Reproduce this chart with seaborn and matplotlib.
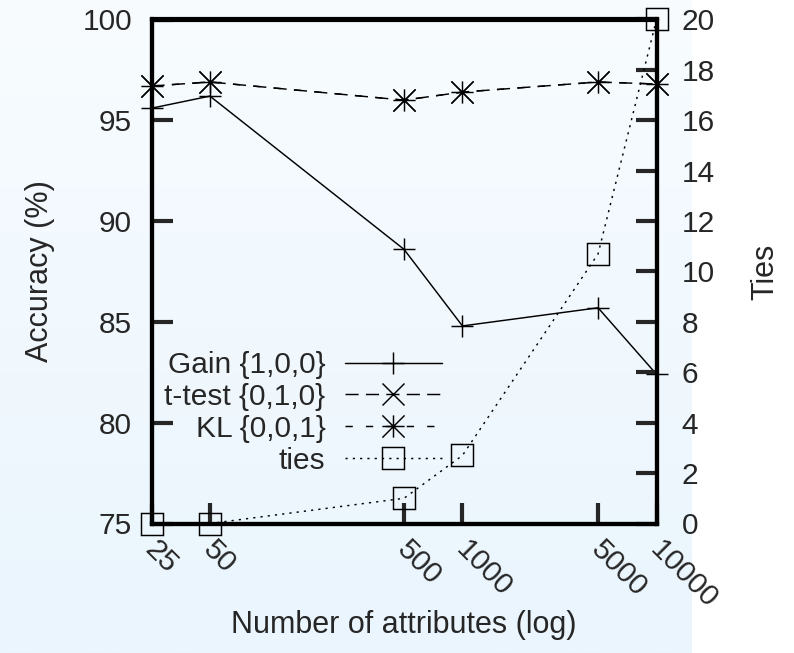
import numpy as np
import pandas as pd
import matplotlib
matplotlib.use("Agg")
import matplotlib.pyplot as plt
from matplotlib.path import Path
import seaborn as sns

# ---- data ----
attributes = [25, 50, 500, 1000, 5000, 10000]
gain = [95.6, 96.2, 88.6, 84.8, 85.7, 82.4]
ttest = [96.7, 96.9, 96.0, 96.4, 96.9, 96.8]
kl = [96.7, 96.9, 96.0, 96.4, 96.9, 96.8]
ties = [0.0, 0.0, 1.0, 2.7, 10.7, 20.0]
xtick_labels = ["25", "50", "500", "1000", "5000", "10000"]
labels = ["Gain {1,0,0}", "t-test {0,1,0}", "KL {0,0,1}", "ties"]

sns.set_style("white")
plt.rcParams["font.family"] = ["Liberation Sans", "DejaVu Sans"]
FS = 21.5
LFS = 22

W, H = 794, 653
fig = plt.figure(figsize=(W / 100, H / 100), dpi=100)
fig.patch.set_facecolor("white")

# background gradient panel
bg = fig.add_axes([0, 0, 692 / W, 1], zorder=-10)
grad = np.linspace(0, 1, 256)[:, None]
top = np.array([248, 252, 255]) / 255
bot = np.array([234, 245, 253]) / 255
img = top[None, None, :] * (1 - grad[:, :, None]) + bot[None, None, :] * grad[:, :, None]
bg.imshow(img, aspect="auto", extent=[0, 1, 0, 1], origin="upper")
bg.axis("off")

L, R, T, B = 151.5, 656.5, 19.5, 523.5
AW, AH = R - L, B - T
ax = fig.add_axes([L / W, 1 - B / H, AW / W, AH / H])
ax.patch.set_alpha(0)
ax2 = ax.twinx()
ax2.patch.set_alpha(0)

# asterisk marker (+ and x combined)
ast = Path([(-1, 0), (1, 0), (0, -1), (0, 1), (-1, -1), (1, 1), (-1, 1), (1, -1)],
           [Path.MOVETO, Path.LINETO] * 4)

df = pd.DataFrame({"x": attributes, "gain": gain, "ttest": ttest, "kl": kl, "ties": ties})
MS = 16
common = dict(color="black", lw=1.05, markersize=MS, markeredgewidth=1.05,
              markeredgecolor="black", clip_on=False, legend=False)

sns.lineplot(data=df, x="x", y="gain", ax=ax, marker="+", linestyle="-", **common)
sns.lineplot(data=df, x="x", y="ttest", ax=ax, marker="x", linestyle=(0, (9, 5)), **common)
sns.lineplot(data=df, x="x", y="kl", ax=ax, marker=ast, linestyle=(0, (5, 9)), **common)
sns.lineplot(data=df, x="x", y="ties", ax=ax2, marker="s", markerfacecolor="none",
             linestyle=(0, (1.5, 3.5)), **common)

for a in (ax, ax2):
    a.set_xscale("log")
    a.set_xlim(25, 10000)
ax.set_ylim(75, 100)
ax2.set_ylim(0, 20)
ax.set_yticks(np.arange(75, 101, 5))
ax2.set_yticks(np.arange(0, 21, 2))
ax.set_xticks(attributes)
ax.set_xticklabels(xtick_labels)
ax.xaxis.set_minor_locator(matplotlib.ticker.NullLocator())
ax2.xaxis.set_minor_locator(matplotlib.ticker.NullLocator())

for a in (ax, ax2):
    for s in a.spines.values():
        s.set_linewidth(3)
        s.set_color("black")

ax.tick_params(axis="y", direction="in", length=15, width=3, labelsize=FS, pad=14,
               left=True, right=False)
ax.tick_params(axis="x", direction="in", length=15, width=3, labelsize=FS, pad=14,
               bottom=True, top=False)
ax2.tick_params(axis="y", direction="in", length=15, width=3, labelsize=FS, pad=18,
                right=True, left=False)
ax2.tick_params(axis="x", bottom=False, top=False, labelbottom=False, labeltop=False)

for lbl in ax.get_xticklabels():
    lbl.set_rotation(-45)
    lbl.set_ha("left")
    lbl.set_va("center_baseline")
    lbl.set_rotation_mode("anchor")

ax.set_xlabel("Number of attributes (log)", fontsize=LFS)
ax.xaxis.label.set_va("center")
ax.xaxis.set_label_coords(0.5, -(625 - B) / AH)
ax.set_ylabel("Accuracy (%)", fontsize=LFS)
ax.yaxis.label.set_va("center")
ax.yaxis.set_label_coords((40 - L) / AW, 0.5)
ax2.set_ylabel("Ties", fontsize=LFS)
ax2.yaxis.label.set_va("center")
ax2.yaxis.set_label_coords((765 - L) / AW, 0.5)

handles = ax.get_lines()[:3] + ax2.get_lines()[:1]
leg = ax2.legend(handles, labels, loc="upper right",
                 bbox_to_anchor=(442 / W, 1 - 351 / H), bbox_transform=fig.transFigure,
                 frameon=False, markerfirst=False, fontsize=FS, handlelength=3.25,
                 handletextpad=0.65, labelspacing=0.13, borderpad=0, borderaxespad=0)

fig.savefig("out.png", dpi=100)
